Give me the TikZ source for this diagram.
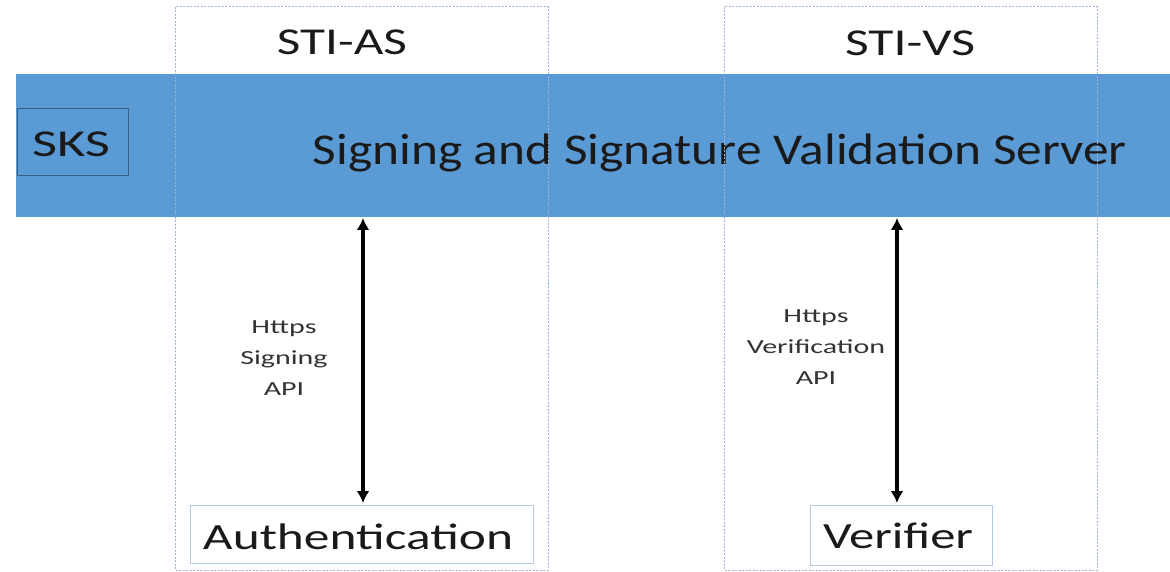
\documentclass[tikz,border=0pt]{standalone}
\usepackage{fontspec}
\usepackage{graphicx}
\setmainfont{Carlito}
\usetikzlibrary{arrows.meta}
\definecolor{bandblue}{HTML}{5B9BD5}
\definecolor{zoneline}{HTML}{9DB3D6}
\definecolor{boxline}{HTML}{B8CAE4}
\definecolor{skslne}{HTML}{3A5F85}
\definecolor{txt}{HTML}{1A1A1A}
\definecolor{lbl}{HTML}{333333}
% set a text to a given width, keeping its height
\newcommand\stretchtext[2]{\resizebox{#1}{\height}{#2}}
\tikzset{
  zone/.style={draw=zoneline, line width=1pt, dash pattern=on 2pt off 1.5pt},
  band/.style={fill=bandblue, draw=none, anchor=north west, inner sep=0pt},
  endpoint/.style={draw=boxline, line width=1.3pt, fill=white, anchor=north west, inner sep=0pt},
  word/.style={inner sep=0pt, anchor=base, text=txt},
  apilabel/.style={inner sep=0pt, text=lbl, font=\fontsize{20}{31}\selectfont},
  link/.style={{Latex[length=12pt,width=13pt]}-{Latex[length=12pt,width=13pt]}, line width=3.6pt, black}
}
\begin{document}
\begin{tikzpicture}[x=1pt,y=-1pt]
\useasboundingbox (0,0) rectangle (1170,572);
% server band
\node[band, minimum width=1154pt, minimum height=143pt] (server) at (16,74) {};
\node[draw=skslne, line width=1.3pt, anchor=north west, minimum width=111pt, minimum height=67pt, inner sep=0pt] (sks) at (17,108) {};
\node[word, font=\fontsize{38}{42}\selectfont] (skst) at (71,157) {\stretchtext{78pt}{SKS}};
\node[word, font=\fontsize{44}{48}\selectfont] (sname) at (720,165) {\stretchtext{814pt}{Signing and Signature Validation Server}};
% service zones
\draw[zone] (175,7) rectangle (548,570);
\draw[zone] (724,7) rectangle (1097,570);
\node[word, font=\fontsize{38}{42}\selectfont] (as) at (342,55) {\stretchtext{130pt}{STI-AS}};
\node[word, font=\fontsize{38}{42}\selectfont] (vs) at (910,56) {\stretchtext{130pt}{STI-VS}};
% endpoints
\node[endpoint, minimum width=343pt, minimum height=58pt] (auth) at (190,505) {};
\node[word, font=\fontsize{37}{40}\selectfont] (autht) at (358,549) {\stretchtext{310pt}{Authentication}};
\node[endpoint, minimum width=182pt, minimum height=60pt] (ver) at (810,505) {};
\node[word, font=\fontsize{37}{40}\selectfont] (vert) at (898,548) {\stretchtext{150pt}{Verifier}};
% API links
\coordinate (atop) at (363,218);
\coordinate (vtop) at (897,218);
\draw[link] (atop) -- ([yshift=2pt]auth.north -| atop);
\draw[link] (vtop) -- ([yshift=2pt]ver.north -| vtop);
\node[apilabel] (alab) at (284,358) {\scalebox{1.5}[1]{\begin{tabular}{@{}c@{}}Https\\Signing\\API\end{tabular}}};
\node[apilabel] (vlab) at (816,347) {\scalebox{1.5}[1]{\begin{tabular}{@{}c@{}}Https\\Verification\\API\end{tabular}}};
\end{tikzpicture}
\end{document}
